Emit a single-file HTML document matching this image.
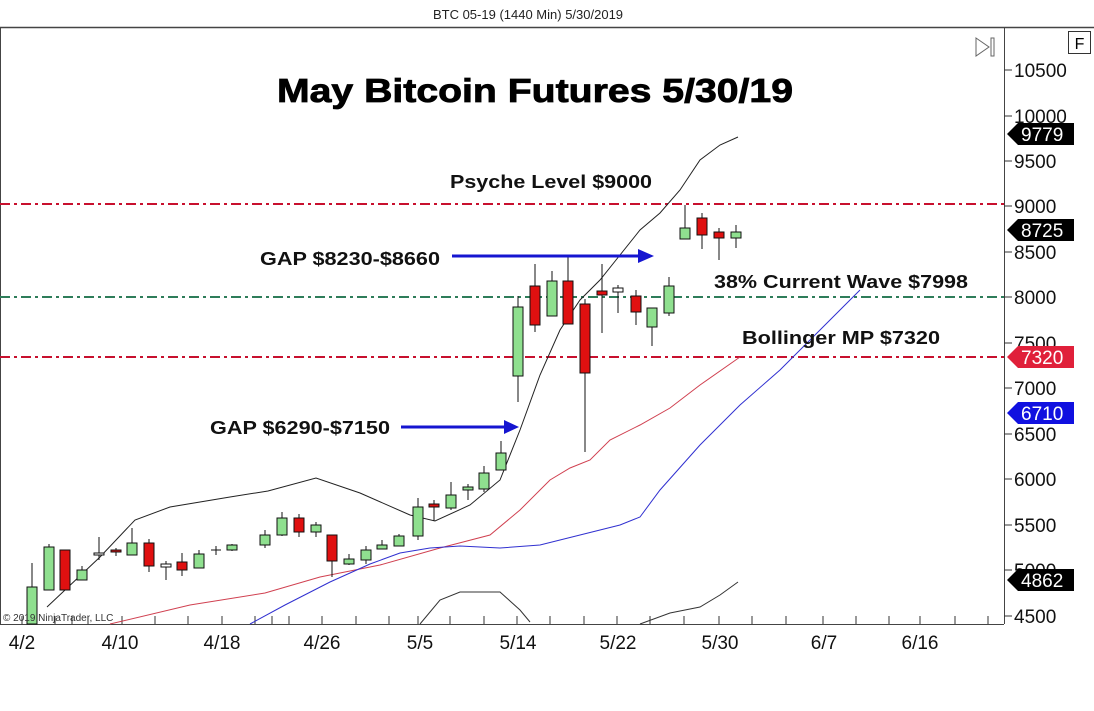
<!DOCTYPE html>
<html><head><style>
body{margin:0;background:#fff;}
svg{display:block;font-family:"Liberation Sans",Arial,sans-serif;}
</style></head><body>
<svg width="1094" height="711" viewBox="0 0 1094 711" xmlns="http://www.w3.org/2000/svg">
<rect width="1094" height="711" fill="#fff"/>
<text x="528" y="19" font-size="13" text-anchor="middle" fill="#222">BTC 05-19 (1440 Min)  5/30/2019</text>
<line x1="0" y1="27.5" x2="1094" y2="27.5" stroke="#444" stroke-width="1.5"/>
<line x1="1004.5" y1="28" x2="1004.5" y2="624" stroke="#444"/>
<line x1="0" y1="624.5" x2="1004" y2="624.5" stroke="#444"/>
<line x1="0.5" y1="28" x2="0.5" y2="624" stroke="#444"/>
<rect x="1068.5" y="31.5" width="22" height="22" fill="#fff" stroke="#333"/>
<text x="1079.5" y="49" font-size="16" text-anchor="middle">F</text>
<path d="M976 38 L989 47 L976 56 Z" fill="none" stroke="#666"/>
<rect x="991" y="38" width="3" height="18" fill="none" stroke="#666"/>
<g font-size="19" fill="#111">
<g stroke="#333"><line x1="1004" y1="70" x2="1012" y2="70"/><line x1="1004" y1="116" x2="1012" y2="116"/><line x1="1004" y1="161" x2="1012" y2="161"/><line x1="1004" y1="206" x2="1012" y2="206"/><line x1="1004" y1="252" x2="1012" y2="252"/><line x1="1004" y1="297" x2="1012" y2="297"/><line x1="1004" y1="343" x2="1012" y2="343"/><line x1="1004" y1="388" x2="1012" y2="388"/><line x1="1004" y1="434" x2="1012" y2="434"/><line x1="1004" y1="479" x2="1012" y2="479"/><line x1="1004" y1="525" x2="1012" y2="525"/><line x1="1004" y1="570" x2="1012" y2="570"/><line x1="1004" y1="616" x2="1012" y2="616"/></g>
<text x="1014" y="77">10500</text><text x="1014" y="123">10000</text><text x="1014" y="168">9500</text><text x="1014" y="213">9000</text><text x="1014" y="259">8500</text><text x="1014" y="304">8000</text><text x="1014" y="350">7500</text><text x="1014" y="395">7000</text><text x="1014" y="441">6500</text><text x="1014" y="486">6000</text><text x="1014" y="532">5500</text><text x="1014" y="577">5000</text><text x="1014" y="623">4500</text>
</g>
<g font-size="19" fill="#fff">
<path d="M1007 134 L1018 123 L1074 123 L1074 145 L1018 145 Z" fill="#000"/><text x="1021" y="141">9779</text>
<path d="M1007 230 L1018 219 L1074 219 L1074 241 L1018 241 Z" fill="#000"/><text x="1021" y="237">8725</text>
<path d="M1007 357 L1018 346 L1074 346 L1074 368 L1018 368 Z" fill="#e0203a"/><text x="1021" y="364">7320</text>
<path d="M1007 413 L1018 402 L1074 402 L1074 424 L1018 424 Z" fill="#1010e0"/><text x="1021" y="420">6710</text>
<path d="M1007 580 L1018 569 L1074 569 L1074 591 L1018 591 Z" fill="#000"/><text x="1021" y="587">4862</text>
</g>
<g stroke="#333">
<line x1="22" y1="616" x2="22" y2="624"/><line x1="55" y1="616" x2="55" y2="624"/><line x1="72" y1="616" x2="72" y2="624"/><line x1="88" y1="616" x2="88" y2="624"/><line x1="122" y1="616" x2="122" y2="624"/><line x1="155" y1="616" x2="155" y2="624"/><line x1="188" y1="616" x2="188" y2="624"/><line x1="222" y1="616" x2="222" y2="624"/><line x1="255" y1="616" x2="255" y2="624"/><line x1="272" y1="616" x2="272" y2="624"/><line x1="289" y1="616" x2="289" y2="624"/><line x1="322" y1="616" x2="322" y2="624"/><line x1="356" y1="616" x2="356" y2="624"/><line x1="389" y1="616" x2="389" y2="624"/><line x1="418" y1="616" x2="418" y2="624"/><line x1="450" y1="616" x2="450" y2="624"/><line x1="484" y1="616" x2="484" y2="624"/><line x1="517" y1="616" x2="517" y2="624"/><line x1="550" y1="616" x2="550" y2="624"/><line x1="584" y1="616" x2="584" y2="624"/><line x1="617" y1="616" x2="617" y2="624"/><line x1="650" y1="616" x2="650" y2="624"/><line x1="684" y1="616" x2="684" y2="624"/><line x1="719" y1="616" x2="719" y2="624"/><line x1="752" y1="616" x2="752" y2="624"/><line x1="786" y1="616" x2="786" y2="624"/><line x1="823" y1="616" x2="823" y2="624"/><line x1="856" y1="616" x2="856" y2="624"/><line x1="889" y1="616" x2="889" y2="624"/><line x1="920" y1="616" x2="920" y2="624"/><line x1="955" y1="616" x2="955" y2="624"/><line x1="988" y1="616" x2="988" y2="624"/>
</g>
<g font-size="19" fill="#111" text-anchor="middle">
<text x="22" y="649">4/2</text><text x="120" y="649">4/10</text><text x="222" y="649">4/18</text><text x="322" y="649">4/26</text><text x="420" y="649">5/5</text><text x="518" y="649">5/14</text><text x="618" y="649">5/22</text><text x="720" y="649">5/30</text><text x="824" y="649">6/7</text><text x="920" y="649">6/16</text>
</g>
<line x1="0" y1="204" x2="1004" y2="204" stroke="#c8102e" stroke-width="2" stroke-dasharray="10,4,3,4"/>
<line x1="0" y1="297" x2="1004" y2="297" stroke="#2e7d5a" stroke-width="2" stroke-dasharray="10,4,3,4"/>
<line x1="0" y1="357" x2="1004" y2="357" stroke="#c8102e" stroke-width="2" stroke-dasharray="10,4,3,4"/>
<g fill="none" stroke-width="1">
<polyline stroke="#222" points="47,607 100,557 135,520 170,507 230,497 268,491 316,478 360,493 410,515 435,521 470,505 500,480 520,430 540,375 560,330 580,300 600,280 620,255 640,230 660,213 680,190 700,160 720,145 738,137"/>
<polyline stroke="#d04050" points="110,624 190,605 265,593 320,577 380,565 440,548 490,535 520,510 550,480 570,468 590,460 610,440 640,425 670,408 700,385 740,357"/>
<polyline stroke="#3030d0" points="250,624 285,605 330,582 370,564 400,553 430,548 460,546 500,548 540,545 580,535 620,525 640,517 660,490 700,445 740,405 780,370 820,330 860,290"/>
<polyline stroke="#333" points="420,624 440,600 460,592 500,592 520,610 530,622"/>
<polyline stroke="#333" points="640,624 670,613 700,607 720,595 738,582"/>
</g>
<g stroke="#111" stroke-width="1">
<line x1="32" y1="563" x2="32" y2="624"/><rect x="27" y="587" width="10" height="37" fill="#8fe08f"/>
<line x1="49" y1="544" x2="49" y2="590"/><rect x="44" y="547" width="10" height="43" fill="#8fe08f"/>
<line x1="65" y1="550" x2="65" y2="590"/><rect x="60" y="550" width="10" height="40" fill="#e01010"/>
<line x1="82" y1="566" x2="82" y2="580"/><rect x="77" y="570" width="10" height="10" fill="#8fe08f"/>
<line x1="99" y1="537" x2="99" y2="560"/><rect x="94" y="553" width="10" height="2" fill="#fff"/>
<line x1="116" y1="548" x2="116" y2="556"/><rect x="111" y="550" width="10" height="2" fill="#e01010"/>
<line x1="132" y1="528" x2="132" y2="555"/><rect x="127" y="543" width="10" height="12" fill="#8fe08f"/>
<line x1="149" y1="539" x2="149" y2="572"/><rect x="144" y="543" width="10" height="23" fill="#e01010"/>
<line x1="166" y1="561" x2="166" y2="580"/><rect x="161" y="564" width="10" height="3" fill="#fff"/>
<line x1="182" y1="553" x2="182" y2="576"/><rect x="177" y="562" width="10" height="8" fill="#e01010"/>
<line x1="199" y1="550" x2="199" y2="568"/><rect x="194" y="554" width="10" height="14" fill="#8fe08f"/>
<line x1="216" y1="546" x2="216" y2="555"/><line x1="211" y1="550" x2="221" y2="550"/>
<line x1="232" y1="544" x2="232" y2="551"/><rect x="227" y="545" width="10" height="5" fill="#8fe08f"/>
<line x1="265" y1="530" x2="265" y2="548"/><rect x="260" y="535" width="10" height="10" fill="#8fe08f"/>
<line x1="282" y1="512" x2="282" y2="536"/><rect x="277" y="518" width="10" height="17" fill="#8fe08f"/>
<line x1="299" y1="514" x2="299" y2="537"/><rect x="294" y="518" width="10" height="14" fill="#e01010"/>
<line x1="316" y1="522" x2="316" y2="537"/><rect x="311" y="525" width="10" height="7" fill="#8fe08f"/>
<line x1="332" y1="535" x2="332" y2="577"/><rect x="327" y="535" width="10" height="26" fill="#e01010"/>
<line x1="349" y1="554" x2="349" y2="565"/><rect x="344" y="559" width="10" height="5" fill="#8fe08f"/>
<line x1="366" y1="546" x2="366" y2="564"/><rect x="361" y="550" width="10" height="10" fill="#8fe08f"/>
<line x1="382" y1="540" x2="382" y2="549"/><rect x="377" y="545" width="10" height="4" fill="#8fe08f"/>
<line x1="399" y1="534" x2="399" y2="546"/><rect x="394" y="536" width="10" height="10" fill="#8fe08f"/>
<line x1="418" y1="498" x2="418" y2="540"/><rect x="413" y="507" width="10" height="29" fill="#8fe08f"/>
<line x1="434" y1="500" x2="434" y2="521"/><rect x="429" y="504" width="10" height="3" fill="#e01010"/>
<line x1="451" y1="482" x2="451" y2="510"/><rect x="446" y="495" width="10" height="13" fill="#8fe08f"/>
<line x1="468" y1="484" x2="468" y2="500"/><rect x="463" y="487" width="10" height="3" fill="#8fe08f"/>
<line x1="484" y1="466" x2="484" y2="492"/><rect x="479" y="473" width="10" height="16" fill="#8fe08f"/>
<line x1="501" y1="441" x2="501" y2="470"/><rect x="496" y="453" width="10" height="17" fill="#8fe08f"/>
<line x1="518" y1="296" x2="518" y2="402"/><rect x="513" y="307" width="10" height="69" fill="#8fe08f"/>
<line x1="535" y1="264" x2="535" y2="332"/><rect x="530" y="286" width="10" height="39" fill="#e01010"/>
<line x1="552" y1="271" x2="552" y2="316"/><rect x="547" y="281" width="10" height="35" fill="#8fe08f"/>
<line x1="568" y1="257" x2="568" y2="324"/><rect x="563" y="281" width="10" height="43" fill="#e01010"/>
<line x1="585" y1="299" x2="585" y2="452"/><rect x="580" y="304" width="10" height="69" fill="#e01010"/>
<line x1="602" y1="264" x2="602" y2="333"/><rect x="597" y="291" width="10" height="4" fill="#e01010"/>
<line x1="618" y1="285" x2="618" y2="313"/><rect x="613" y="288" width="10" height="4" fill="#fff"/>
<line x1="636" y1="290" x2="636" y2="325"/><rect x="631" y="296" width="10" height="16" fill="#e01010"/>
<line x1="652" y1="308" x2="652" y2="346"/><rect x="647" y="308" width="10" height="19" fill="#8fe08f"/>
<line x1="669" y1="277" x2="669" y2="316"/><rect x="664" y="286" width="10" height="27" fill="#8fe08f"/>
<line x1="685" y1="205" x2="685" y2="239"/><rect x="680" y="228" width="10" height="11" fill="#8fe08f"/>
<line x1="702" y1="213" x2="702" y2="249"/><rect x="697" y="218" width="10" height="17" fill="#e01010"/>
<line x1="719" y1="228" x2="719" y2="260"/><rect x="714" y="232" width="10" height="6" fill="#e01010"/>
<line x1="736" y1="225" x2="736" y2="248"/><rect x="731" y="232" width="10" height="6" fill="#8fe08f"/>
</g>
<text x="277" y="102" font-size="33" font-weight="bold" fill="#000" stroke="#000" stroke-width="0.8" textLength="516" lengthAdjust="spacingAndGlyphs">May Bitcoin Futures 5/30/19</text>
<g font-size="18" font-weight="bold" fill="#111">
<text x="450" y="188" textLength="202" lengthAdjust="spacingAndGlyphs">Psyche Level $9000</text>
<text x="260" y="265" textLength="180" lengthAdjust="spacingAndGlyphs">GAP $8230-$8660</text>
<text x="714" y="288" textLength="254" lengthAdjust="spacingAndGlyphs">38% Current Wave $7998</text>
<text x="742" y="344" textLength="198" lengthAdjust="spacingAndGlyphs">Bollinger MP $7320</text>
<text x="210" y="434" textLength="180" lengthAdjust="spacingAndGlyphs">GAP $6290-$7150</text>
</g>
<line x1="452" y1="256" x2="640" y2="256" stroke="#1515d0" stroke-width="3"/>
<path d="M638 249 L654 256 L638 263 Z" fill="#1515d0"/>
<line x1="401" y1="427" x2="506" y2="427" stroke="#1515d0" stroke-width="3"/>
<path d="M504 420 L519 427 L504 434 Z" fill="#1515d0"/>
<text x="3" y="621" font-size="10" fill="#333">© 2019 NinjaTrader, LLC</text>
</svg>
</body></html>
